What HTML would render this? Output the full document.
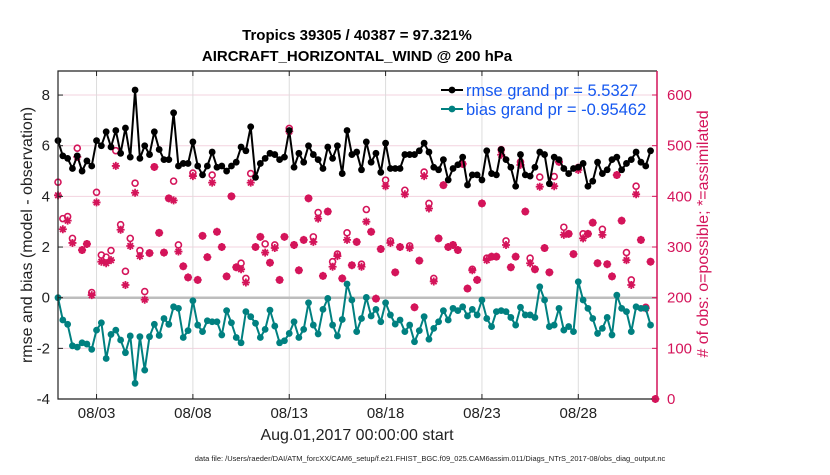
<!DOCTYPE html>
<html><head><meta charset="utf-8">
<style>
body{margin:0;background:#fff;}
svg text{font-family:"Liberation Sans",sans-serif;}
</style></head>
<body>
<svg id="chart" width="830" height="470" viewBox="0 0 830 470" xmlns="http://www.w3.org/2000/svg">
<rect width="830" height="470" fill="#fff"/>
<g id="grid"></g>
<g id="series"></g>
<g id="axes"></g>
</svg>
<script>
const dayTicks = [2, 7, 12, 17, 22, 27];
const dayTickLabels = ["08/03","08/08","08/13","08/18","08/23","08/28"];
const leftTicks = [-4,-2,0,2,4,6,8];
const rightTicks = [0,100,200,300,400,500,600];
const rmse = [6.2,5.6,5.5,5.1,5.6,5.0,5.4,5.2,6.2,6.0,6.55,5.95,6.6,5.7,6.7,5.55,8.2,5.5,6.0,5.65,6.55,5.85,5.45,5.45,7.3,5.2,5.3,5.3,6.15,5.2,4.85,5.2,5.75,5.15,5.2,5.0,5.2,5.35,5.95,5.8,
6.75,4.75,5.3,5.5,5.7,5.65,5.45,5.55,6.6,5.15,5.7,5.35,6.0,5.65,5.45,5.1,5.95,5.5,6.0,4.9,6.6,5.65,5.75,5.05,6.15,5.35,5.7,4.95,6.1,5.1,5.1,5.1,5.65,5.65,5.65,5.8,6.1,5.75,5.15,5.05,5.45,4.65,5.1,5.25,
5.55,4.45,4.85,4.85,4.65,5.8,4.9,4.85,5.85,5.45,5.15,4.4,5.65,4.85,4.8,5.15,5.75,5.65,4.5,5.55,5.45,5.1,4.9,5.1,5.15,5.3,4.4,4.6,5.35,4.9,5.05,5.45,5.55,5.05,5.3,5.45,5.75,5.35,5.2,5.8];
const bias = [0,-0.88,-1.05,-1.9,-1.95,-1.78,-1.83,-2.04,-1.28,-0.99,-2.4,-1.45,-1.28,-1.67,-2.17,-1.51,-3.38,-1.54,-2.86,-1.54,-1.05,-1.49,-0.82,-1.05,-0.36,-0.42,-1.57,-1.3,-0.12,-1.08,-1.34,-0.91,-0.95,-0.95,-1.47,-0.51,-0.99,-1.57,-1.78,-0.55,
-0.75,-1.01,-1.57,-1.25,-0.49,-1.12,-1.78,-1.7,-1.41,-0.95,-1.57,-1.25,-0.2,-1.08,-1.43,-0.46,-0.03,-1.08,-1.51,-0.86,0.54,-0.09,-1.34,-0.82,0.01,-0.72,-0.46,-0.95,-0.2,-0.68,-1.04,-0.88,-1.34,-1.08,-1.74,-1.3,-0.75,-1.64,-1.21,-0.95,-0.51,-0.88,-0.42,-0.51,
-0.36,-0.72,-0.46,-0.68,-0.09,-0.82,-1.14,-0.55,-0.51,-0.55,-0.78,-1.08,-0.38,-0.68,-0.68,-0.78,0.43,-0.09,-1.14,-1.08,-0.42,-1.28,-1.14,-1.34,0.63,-0.09,-0.42,-0.82,-1.41,-1.21,-0.78,-1.47,0.1,-0.42,-0.55,-1.34,-0.36,-0.42,-0.42,-1.08];
const assimilated = [402,335,352,308,478,294,306,205,388,271,268,274,460,334,225,302,407,282,196,288,458,328,289,396,392,291,262,240,440,235,322,280,427,330,300,242,400,260,256,230,
427,300,320,289,269,298,235,320,528,304,254,314,396,310,356,243,370,261,282,238,314,264,310,261,350,330,198,296,420,308,250,300,404,298,181,273,440,376,232,317,422,300,304,294,
464,218,254,235,386,274,281,281,482,304,260,281,462,370,268,256,419,298,250,420,468,324,326,286,452,317,326,348,268,324,266,242,442,352,274,225,404,314,179,271,0];
const possible = [428,356,360,317,495,294,306,210,408,284,280,293,490,344,252,317,426,293,212,288,458,328,289,396,430,304,262,240,446,235,322,280,442,330,300,242,400,260,268,238,
445,300,320,306,269,304,235,320,534,304,254,314,396,320,368,243,370,271,286,238,328,264,310,266,374,330,198,296,432,312,250,300,412,302,181,273,448,386,238,317,422,300,304,294,
464,218,256,235,386,278,281,281,492,312,260,281,468,370,278,256,438,298,250,439,468,339,326,286,457,326,326,348,268,335,266,242,442,352,289,235,420,314,181,271,0];
const stepDays = 0.25;

const NS="http://www.w3.org/2000/svg";
const L=58,R=657,T=71,B=399;
const xs=d=>L+d*19.27;
const yl=v=>297.7-v*25.33;
const yr=c=>B-c*(304/600);
function mk(tag,attrs,parent){const e=document.createElementNS(NS,tag);for(const k in attrs)e.setAttribute(k,attrs[k]);parent.appendChild(e);return e;}
const grid=document.getElementById('grid'),ser=document.getElementById('series'),ax=document.getElementById('axes');

leftTicks.forEach(v=>{const g=mk('line',{x1:L,x2:R,y1:yl(v),y2:yl(v),stroke:'#f3d3df','stroke-width':1},grid);

});
dayTicks.forEach(d=>{const g=mk('line',{x1:xs(d),x2:xs(d),y1:T,y2:B,stroke:'#dcdcdc','stroke-width':1},grid);

});
const z=mk('line',{x1:L,x2:R,y1:yl(0),y2:yl(0),stroke:'#bdbdbd','stroke-width':2.5},grid);



const C='#d4145a';
function star(x,y,g){const s=4;
mk('path',{d:`M${x-s},${y}H${x+s}M${x},${y-s}V${y+s}M${x-s*0.7},${y-s*0.7}L${x+s*0.7},${y+s*0.7}M${x-s*0.7},${y+s*0.7}L${x+s*0.7},${y-s*0.7}`,stroke:C,'stroke-width':1.8,fill:'none'},g);}
const gp=mk('g',{},ser);


possible.forEach((c,i)=>{const m=mk('circle',{cx:xs(i*stepDays),cy:yr(c),r:3,fill:'none',stroke:C,'stroke-width':1.6},gp);

});
const ga=mk('g',{},ser);


assimilated.forEach((c,i)=>{star(xs(i*stepDays),yr(c),ga);});

function line(vals,color,name){
const g=mk('g',{},ser);


const pts=vals.map((v,i)=>xs(i*stepDays).toFixed(1)+','+yl(v).toFixed(1)).join(' ');
mk('polyline',{points:pts,fill:'none',stroke:color,'stroke-width':2,'stroke-linejoin':'round'},g);
vals.forEach((v,i)=>{const p=mk('circle',{cx:xs(i*stepDays),cy:yl(v),r:3.4,fill:color},g);

});
}
line(bias,'#008080','bias-series');
line(rmse,'#000','rmse-series');

mk('path',{d:`M${R},${T}H${L}V${B}H${R}`,stroke:'#222',fill:'none','stroke-width':1.2},ax);
const ra=mk('line',{x1:R,x2:R,y1:T,y2:B,stroke:C,'stroke-width':1.5},ax);


function txt(s,attrs,name,parent){const t=mk('text',attrs,parent||ax);t.textContent=s;

return t;}
leftTicks.forEach(v=>{mk('line',{x1:L,x2:L+5,y1:yl(v),y2:yl(v),stroke:'#222'},ax);
txt(String(v),{x:L-8,y:yl(v)+5,'text-anchor':'end','font-size':15,fill:'#222'},'left-tick-label');});
rightTicks.forEach(c=>{mk('line',{x1:R-5,x2:R,y1:yr(c),y2:yr(c),stroke:C},ax);
txt(String(c),{x:R+10,y:yr(c)+5,'font-size':15,fill:C},'right-tick-label');});
dayTicks.forEach((d,i)=>{mk('line',{x1:xs(d),x2:xs(d),y1:B,y2:B-5,stroke:'#222'},ax);mk('line',{x1:xs(d),x2:xs(d),y1:T,y2:T+5,stroke:'#222'},ax);
txt(dayTickLabels[i],{x:xs(d),y:418,'text-anchor':'middle','font-size':15,fill:'#222'},'x-tick-label');});
txt('Tropics 39305 / 40387 = 97.321%',{x:357,y:40,'text-anchor':'middle','font-size':15,'font-weight':'bold',fill:'#000'},'chart-title-line1');
txt('AIRCRAFT_HORIZONTAL_WIND @ 200 hPa',{x:357,y:61,'text-anchor':'middle','font-size':15,'font-weight':'bold',fill:'#000'},'chart-title-line2');
txt('Aug.01,2017 00:00:00 start',{x:357,y:440,'text-anchor':'middle','font-size':16,fill:'#222'},'x-axis-title');
txt('data file: /Users/raeder/DAI/ATM_forcXX/CAM6_setup/f.e21.FHIST_BGC.f09_025.CAM6assim.011/Diags_NTrS_2017-08/obs_diag_output.nc',{x:430,y:461,'text-anchor':'middle','font-size':7.5,fill:'#222'},'data-file-note');
txt('rmse and bias (model - observation)',{x:0,y:0,'text-anchor':'middle','font-size':16,fill:'#222',transform:'translate(32,235) rotate(-90)'},'y-axis-title');
txt('# of obs: o=possible; *=assimilated',{x:0,y:0,'text-anchor':'middle','font-size':16,fill:C,transform:'translate(708,234) rotate(-90)'},'right-axis-title');
const lg=mk('g',{},ax);


[['#000','rmse grand pr = 5.5327',90],['#008080','bias grand pr = -0.95462',109]].forEach(([c,s,y])=>{
mk('line',{x1:441,x2:463,y1:y,y2:y,stroke:c,'stroke-width':2},lg);
mk('circle',{cx:452,cy:y,r:3.4,fill:c},lg);
txt(s,{x:466,y:y+6,'font-size':16.5,fill:'#1558f0'},'legend-entry',lg);});
</script>
</body></html>
